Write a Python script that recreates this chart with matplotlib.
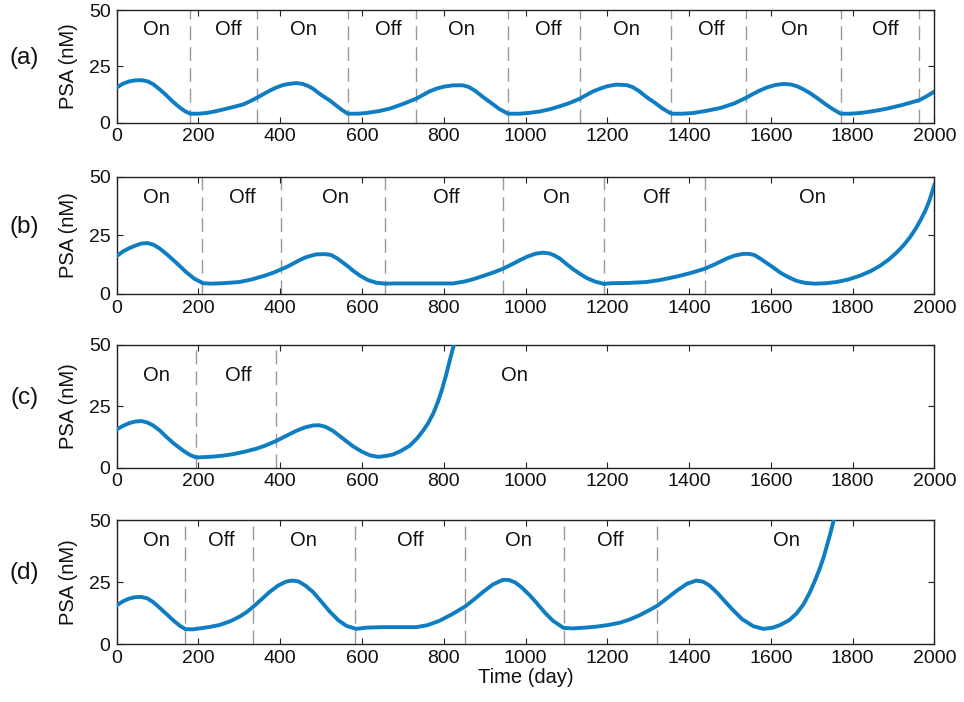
import matplotlib.pyplot as plt
import numpy as np

plt.rcParams['font.family'] = ['Liberation Sans', 'DejaVu Sans']

# Panel (a)
t_a = [0, 15, 30, 45, 60, 75, 90, 105, 121, 137, 153, 167, 180, 200, 219, 245,
       268, 290, 309, 325, 343, 360, 375, 390, 405, 420, 439, 455, 468, 480, 495,
       508, 521, 535, 550, 565, 590, 610, 640, 667, 700, 733, 750, 765, 782, 800,
       823, 847, 862, 878, 896, 915, 935, 957, 986, 1010, 1035, 1060, 1084, 1110,
       1133, 1150, 1165, 1182, 1200, 1222, 1247, 1262, 1278, 1296, 1316, 1336,
       1357, 1385, 1410, 1440, 1476, 1510, 1539, 1555, 1572, 1590, 1610, 1631,
       1648, 1664, 1680, 1697, 1713, 1733, 1752, 1771, 1795, 1818, 1850, 1883,
       1920, 1963, 1980, 2000]
psa_a = [15.6, 17.3, 18.3, 18.8, 18.9, 18.4, 17.0, 14.8, 12.2, 9.4, 6.9, 5.1, 4.0,
         4.0, 4.3, 5.2, 6.2, 7.2, 8.1, 9.4, 11.1, 12.8, 14.3, 15.6, 16.6, 17.2,
         17.6, 17.2, 16.3, 15.1, 13.0, 11.4, 9.9, 7.9, 5.8, 4.0, 4.0, 4.3, 5.1,
         6.2, 8.3, 10.7, 12.4, 13.9, 15.1, 16.0, 16.6, 16.6, 15.8, 14.0, 11.4, 8.9,
         6.2, 4.0, 4.0, 4.4, 5.0, 6.0, 7.3, 8.9, 10.7, 12.4, 13.9, 15.1, 16.2,
         16.9, 16.7, 15.8, 14.0, 11.4, 8.9, 6.2, 4.0, 4.0, 4.3, 5.2, 6.5, 8.5,
         11.0, 12.6, 14.2, 15.6, 16.7, 17.2, 17.0, 16.2, 14.8, 13.0, 11.0, 8.3,
         6.0, 4.0, 4.0, 4.3, 5.1, 6.2, 7.8, 10.0, 11.6, 13.8]
switch_a = [180, 343, 565, 733, 957, 1133, 1357, 1539, 1771, 1963]
phase_a = ['On', 'Off', 'On', 'Off', 'On', 'Off', 'On', 'Off', 'On', 'Off']
label_x_a = [98, 273, 457, 664, 844, 1056, 1248, 1455, 1659, 1879]

# Panel (b)
t_b = [0, 15, 30, 45, 60, 75, 90, 105, 120, 135, 150, 170, 190, 211, 230, 260,
       300, 330, 360, 385, 402, 420, 435, 450, 465, 488, 510, 525, 540, 561, 580,
       597, 615, 635, 657, 680, 823, 850, 872, 900, 925, 945, 965, 986, 1005,
       1025, 1043, 1058, 1070, 1084, 1100, 1117, 1133, 1150, 1170, 1192, 1210,
       1250, 1296, 1330, 1369, 1405, 1439, 1465, 1492, 1512, 1532, 1547, 1560,
       1575, 1590, 1606, 1625, 1645, 1663, 1685, 1708, 1735, 1761, 1790, 1818,
       1845, 1867, 1888, 1908, 1925, 1941, 1955, 1966, 1978, 1988, 2000]
psa_b = [16.2, 18.1, 19.5, 20.6, 21.5, 21.7, 21.0, 19.4, 17.3, 15.0, 12.6, 9.3,
         6.5, 4.6, 4.4, 4.6, 5.1, 6.2, 7.7, 9.2, 10.5, 11.9, 13.3, 14.7, 15.8,
         16.9, 17.0, 16.6, 15.1, 12.4, 9.7, 7.6, 5.9, 4.8, 4.4, 4.5, 4.5, 5.3,
         6.3, 7.9, 9.4, 10.8, 12.5, 14.4, 16.0, 17.2, 17.6, 17.3, 16.5, 15.1,
         12.8, 10.5, 8.6, 6.8, 5.3, 4.3, 4.6, 4.7, 5.1, 6.0, 7.4, 9.0, 10.8, 12.8,
         15.1, 16.4, 17.1, 17.1, 16.6, 15.0, 13.2, 11.3, 8.9, 7.0, 5.6, 4.7, 4.4,
         4.6, 5.1, 6.2, 7.8, 9.8, 12.0, 14.6, 17.7, 20.8, 24.3, 28.0, 31.4, 35.5,
         39.8, 46.5]
switch_b = [209, 402, 657, 945, 1192, 1439]
phase_b = ['On', 'Off', 'On', 'Off', 'On', 'Off', 'On']
label_x_b = [98, 306, 534, 807, 1076, 1321, 1703]

# Panel (c)
t_c = [0, 15, 30, 45, 60, 75, 88, 105, 121, 140, 162, 180, 194, 215, 235, 260,
       284, 310, 341, 365, 390, 415, 439, 460, 480, 495, 510, 529, 550, 578, 600,
       620, 640, 660, 676, 695, 717, 735, 750, 762, 774, 785, 795, 805, 815, 823,
       830]
psa_c = [15.6, 17.0, 18.1, 18.8, 19.0, 18.4, 17.3, 15.2, 12.6, 9.8, 7.0, 5.1, 4.2,
         4.3, 4.5, 4.9, 5.5, 6.4, 7.7, 9.1, 10.9, 13.0, 15.0, 16.4, 17.2, 17.3,
         16.7, 15.0, 12.3, 8.7, 6.5, 5.0, 4.4, 4.8, 5.4, 6.8, 9.0, 12.0, 15.2,
         18.2, 22.0, 26.5, 31.5, 37.3, 43.9, 49.0, 53.5]
switch_c = [194, 390]
phase_c = ['On', 'Off', 'On']
label_x_c = [98, 298, 974]

# Panel (d)
t_d = [0, 15, 30, 45, 60, 75, 90, 105, 121, 140, 155, 168, 185, 203, 228, 252,
       278, 300, 318, 333, 350, 374, 395, 415, 430, 445, 462, 480, 500, 521, 542,
       562, 586, 610, 650, 733, 760, 790, 820, 851, 875, 896, 920, 945, 960, 975,
       990, 1010, 1027, 1047, 1067, 1093, 1116, 1145, 1173, 1200, 1231, 1255,
       1279, 1300, 1322, 1345, 1369, 1395, 1418, 1435, 1450, 1470, 1490, 1508,
       1530, 1557, 1582, 1605, 1622, 1645, 1663, 1680, 1696, 1710, 1721, 1730,
       1737, 1745, 1753, 1760]
psa_d = [15.6, 17.2, 18.3, 18.9, 19.0, 18.4, 16.8, 14.6, 12.2, 9.3, 7.3, 6.0, 5.9,
         6.3, 6.9, 7.7, 9.2, 11.0, 12.9, 14.9, 17.4, 21.0, 23.6, 25.2, 25.6, 25.2,
         23.5, 21.0, 17.2, 13.1, 9.6, 7.3, 6.1, 6.6, 6.8, 6.8, 7.6, 9.4, 12.0,
         15.0, 18.1, 21.0, 24.0, 25.9, 25.8, 24.8, 22.9, 19.7, 16.6, 12.7, 9.4,
         6.5, 6.3, 6.6, 7.0, 7.6, 8.6, 9.9, 11.6, 13.4, 15.4, 18.3, 21.4, 24.3,
         25.6, 25.1, 23.6, 20.5, 16.8, 13.6, 10.0, 7.2, 6.1, 6.6, 7.6, 9.6, 12.3,
         16.0, 21.0, 26.3, 31.0, 35.4, 39.5, 44.2, 49.3, 54.0]
switch_d = [168, 333, 584, 851, 1093, 1322]
phase_d = ['On', 'Off', 'On', 'Off', 'On', 'Off', 'On']
label_x_d = [98, 257, 457, 717, 982, 1208, 1639]

panel_names = ['(a)', '(b)', '(c)', '(d)']

# axes rectangles in figure fractions (left, bottom, width, height)
boxes = [
    (0.1211, 0.8252, 0.8481, 0.1605),
    (0.1211, 0.5812, 0.8481, 0.1671),
    (0.1211, 0.3338, 0.8481, 0.1748),
    (0.1211, 0.0826, 0.8481, 0.1766),
]
label_y = [41.5, 41.3, 37.5, 41.9]

blue = '#0f7dc2'
fig = plt.figure(figsize=(9.64, 7.02), dpi=100)

panels = [
    (t_a, psa_a, switch_a, phase_a, label_x_a),
    (t_b, psa_b, switch_b, phase_b, label_x_b),
    (t_c, psa_c, switch_c, phase_c, label_x_c),
    (t_d, psa_d, switch_d, phase_d, label_x_d),
]

for i, (t, psa, switches, phases, lab_x) in enumerate(panels):
    ax = fig.add_axes(boxes[i])

    # switching times
    for s in switches:
        ax.axvline(s, color='#9a9a9a', linewidth=1.0, dashes=(10, 5), zorder=1)

    ax.plot(t, psa, color=blue, linewidth=2.8, zorder=3,
            solid_joinstyle='round')

    for x, txt in zip(lab_x, phases):
        ax.text(x, label_y[i], txt, ha='center', va='center', fontsize=14.5,
                color='#111111')

    ax.set_xlim(0, 2000)
    ax.set_ylim(0, 50)
    ax.set_xticks(np.arange(0, 2001, 200))
    ax.set_yticks([0, 25, 50])
    ax.tick_params(direction='in', length=4, width=0.8, top=True, right=True,
                   labelsize=14, color='#222222', labelcolor='#111111')
    ax.tick_params(axis='x', pad=4)
    ax.tick_params(axis='y', pad=4.5)
    for sp in ax.spines.values():
        sp.set_color('#222222')
        sp.set_linewidth(1.0)

    ax.set_ylabel('PSA (nM)', fontsize=14.5, color='#111111')
    ax.yaxis.set_label_coords(-0.047, 0.5)
    ax.text(-0.113, 0.57, panel_names[i], transform=ax.transAxes,
            ha='center', va='center', fontsize=17.5, color='#111111')

    if i == 3:
        ax.set_xlabel('Time (day)', fontsize=14.5, color='#111111', labelpad=1)

plt.savefig('out.png', dpi=100)
